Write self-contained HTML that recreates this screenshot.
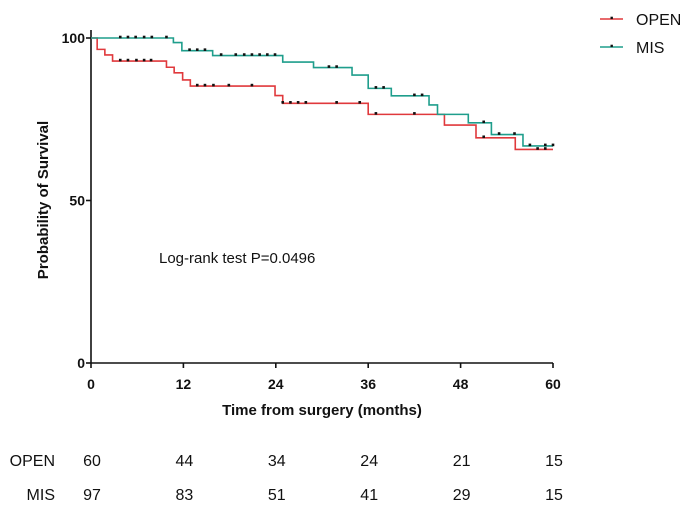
<!DOCTYPE html>
<html><head><meta charset="utf-8"><style>
body{margin:0;background:#fff;}
svg{display:block;font-family:"Liberation Sans",Arial,sans-serif;}
</style></head><body>
<svg id="chart" width="690" height="507" viewBox="0 0 690 507">
<g id="plot"></g>
</svg>
<script>
const xTicks=[0,12,24,36,48,60];
const yTicks=[0,50,100];
// OPEN step times and survival after each step
const openTimes=[0,0.8,1.8,2.8,9.8,10.8,11.9,12.9,23.9,24.9,36.0,45.9,50.0,55.1,60];
const openSurv=[100,96.5,94.8,92.9,91.0,89.3,87.1,85.2,82.3,79.9,76.5,73.2,69.3,65.7,65.7];
const openCens=[3.8,4.8,5.9,6.9,7.8,13.8,14.8,15.9,17.9,20.9,24.9,25.9,26.9,27.9,31.9,34.9,37,42,51,58,59];
const misTimes=[0,10.7,11.8,15.8,24.9,28.9,33.9,36.0,39.0,43.9,45.0,49.0,52.0,56.1,60];
const misSurv=[100,98.6,96.1,94.6,92.6,90.9,88.6,84.5,82.2,79.4,76.5,73.9,70.3,66.8,66.8];
const misCens=[3.8,4.8,5.8,6.9,7.9,9.8,12.8,13.8,14.8,16.9,18.8,19.9,20.9,21.9,22.9,23.9,30.9,31.9,37,38,42,43,51,53,55,57,59,60];
const riskOpen=[60,44,34,24,21,15];
const riskMis=[97,83,51,41,29,15];

const X0=91,X1=553,Y0=363,Y1=38;
const sx=t=>X0+(t/60)*(X1-X0);
const sy=s=>Y0-(s/100)*(Y0-Y1);
const NS="http://www.w3.org/2000/svg";
const g=document.getElementById('plot');
function mk(tag,attrs,parent){const e=document.createElementNS(NS,tag);for(const k in attrs)e.setAttribute(k,attrs[k]);(parent||g).appendChild(e);return e;}
function survAt(times,surv,t){let v=surv[0];for(let i=0;i<times.length;i++){if(times[i]<=t)v=surv[i];}return v;}
function drawSeries(times,surv,cens,color,name){
  let d=`M${sx(times[0])},${sy(surv[0])}`;
  for(let i=1;i<times.length;i++){d+=` H${sx(times[i])} V${sy(surv[i])}`;}
  const p=mk('path',{d:d,fill:'none',stroke:color,'stroke-width':1.6});
  
  
  cens.forEach(t=>{
    const c=mk('rect',{x:sx(t)-1.3,y:sy(survAt(times,surv,t))-2.3,width:2.6,height:2.6,fill:'#111'});
    
    
  });
}
// axes
const ya=mk('line',{x1:X0,y1:Y1-8,x2:X0,y2:Y0,stroke:'#111','stroke-width':1.6});


const xa=mk('line',{x1:X0,y1:Y0,x2:X1,y2:Y0,stroke:'#111','stroke-width':1.6});


yTicks.forEach(v=>{
  mk('line',{x1:X0-5,y1:sy(v),x2:X0,y2:sy(v),stroke:'#111','stroke-width':1.6});
  const t=mk('text',{x:X0-6,y:sy(v)+5,'text-anchor':'end','font-size':14,'font-weight':'bold',fill:'#111'});
  t.textContent=v;
  
  
});
xTicks.forEach(v=>{
  mk('line',{x1:sx(v),y1:Y0,x2:sx(v),y2:Y0+5,stroke:'#111','stroke-width':1.6});
  const t=mk('text',{x:sx(v),y:Y0+26,'text-anchor':'middle','font-size':14,'font-weight':'bold',fill:'#111'});
  t.textContent=v;
  
  
});
const xt=mk('text',{x:322,y:415,'text-anchor':'middle','font-size':15,'font-weight':'bold',fill:'#111'});
xt.textContent='Time from surgery (months)';


const yt=mk('text',{x:0,y:0,transform:'translate(48,200) rotate(-90)','text-anchor':'middle','font-size':15,'font-weight':'bold',fill:'#111'});
yt.textContent='Probability of Survival';


const lr=mk('text',{x:159,y:263,'font-size':15,fill:'#111'});
lr.textContent='Log-rank test P=0.0496';



drawSeries(openTimes,openSurv,openCens,'#e0393c','open');
drawSeries(misTimes,misSurv,misCens,'#1f9e8c','mis');

// legend
[['OPEN','#e0393c',19],['MIS','#1f9e8c',47]].forEach(([lab,col,y])=>{
  const l=mk('line',{x1:600,y1:y,x2:623,y2:y,stroke:col,'stroke-width':1.6});
  
  
  mk('rect',{x:610.5,y:y-2.3,width:2.4,height:2.4,fill:'#111'});
  const t=mk('text',{x:636,y:y+6,'font-size':16,fill:'#111'});
  t.textContent=lab;
  
  
});

// risk table
[['OPEN',riskOpen,466],['MIS',riskMis,500]].forEach(([lab,arr,y])=>{
  const t=mk('text',{x:55,y:y,'text-anchor':'end','font-size':16,fill:'#111'});
  t.textContent=lab;
  
  
  arr.forEach((v,i)=>{
    const n=mk('text',{x:sx(xTicks[i])+1,y:y,'text-anchor':'middle','font-size':16,fill:'#111'});
    n.textContent=v;
    
    
  });
});
</script>
</body></html>
